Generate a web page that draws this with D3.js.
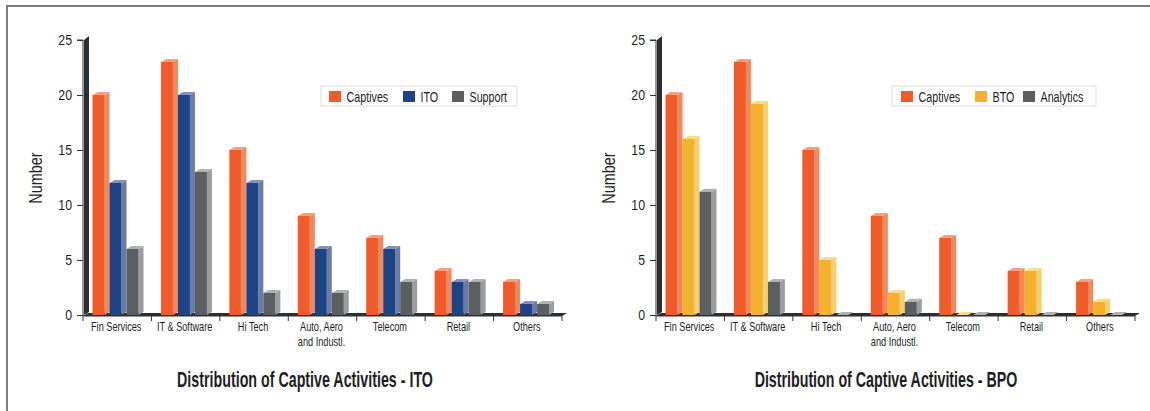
<!DOCTYPE html>
<html>
<head>
<meta charset="utf-8">
<script src="https://cdn.jsdelivr.net/npm/d3@7"></script>
<style>
  html, body { margin: 0; padding: 0; background: #fff; }
  svg { display: block; }
  text { font-family: "Liberation Sans", Arial, sans-serif; fill: #1e1e1e; }
</style>
</head>
<body>
<svg id="chart" width="1150" height="411"></svg>
<script>
// Shared categories and y ticks
const categories = [["Fin Services"], ["IT & Software"], ["Hi Tech"], ["Auto, Aero", "and Industl."], ["Telecom"], ["Retail"], ["Others"]];
const yTicks = [0, 5, 10, 15, 20, 25];

// ITO chart
const itoSeries = ["Captives", "ITO", "Support"];
const itoCaptives = [20, 23, 15, 9, 7, 4, 3];
const itoITO = [12, 20, 12, 6, 6, 3, 1];
const itoSupport = [6, 13, 2, 2, 3, 3, 1];
const itoTitle = "Distribution of Captive Activities - ITO";

// BPO chart
const bpoSeries = ["Captives", "BTO", "Analytics"];
const bpoCaptives = [20, 23, 15, 9, 7, 4, 3];
const bpoBTO = [16, 19.2, 5, 2, 0, 4, 1.2];
const bpoAnalytics = [11.2, 3, 0, 1.2, 0, 0, 0];
const bpoTitle = "Distribution of Captive Activities - BPO";

const palette = {
  Captives:  { front: "#f15a29", side: "#f6875a", top: "#f9a07a" },
  ITO:       { front: "#1c4485", side: "#6a7bab", top: "#8391bb" },
  Support:   { front: "#5c5f61", side: "#9b9d9f", top: "#b0b2b3" },
  BTO:       { front: "#f3b12d", side: "#f8d068", top: "#f9dc88" },
  Analytics: { front: "#5c5f61", side: "#9b9d9f", top: "#b0b2b3" }
};

const svg = d3.select("#chart");

// Squeeze text horizontally (condensed look) by moving its position into a
// transform and scaling along the baseline
function condense(sel, k, rot) {
  sel.each(function () {
    const t = d3.select(this);
    const tx = +t.attr("x") || 0, ty = +t.attr("y") || 0;
    t.attr("x", 0).attr("y", 0)
      .attr("transform", `translate(${tx},${ty})${rot ? ` rotate(${rot})` : ""} scale(${k},1)`);
  });
  return sel;
}

// Frame lines along the top and left edges
svg.append("rect").attr("x", 6).attr("y", 5).attr("width", 1144).attr("height", 2).attr("fill", "#7d7d7d");
svg.append("rect").attr("x", 6).attr("y", 5).attr("width", 2).attr("height", 406).attr("fill", "#7d7d7d");

const DX = 5, DY = -3;   // 3D depth offset

function drawChart(opt) {
  const g = svg.append("g");
  const x = d3.scaleBand().domain(d3.range(categories.length)).range([opt.left, opt.left + 479]);
  const y = d3.scaleLinear().domain([0, 25]).range([315, 40]);
  const inner = d3.scaleBand().domain(opt.series).range([9.5, 60.5]);
  const fw = inner.bandwidth() - DX;
  const x0 = opt.left, yb = y(0);

  // Back wall and floor
  g.append("polygon")
    .attr("points", [[x0 + 1, y(25)], [x0 + 1 + DX, y(25) + DY - 1], [x0 + 1 + DX, yb + DY], [x0 + 1, yb]].join(" "))
    .attr("fill", "#2c2f31");
  g.append("polygon")
    .attr("points", [[x0, yb + 1], [x0 + DX, yb + 1 + DY], [x0 + 479 + DX, yb + 1 + DY], [x0 + 479, yb + 1]].join(" "))
    .attr("fill", "#2c2f31");

  // Y axis
  const yAxis = d3.axisLeft(y).tickValues(yTicks).tickSize(6).tickPadding(5);
  const ya = g.append("g").attr("transform", `translate(${x0},0)`).call(yAxis);
  ya.select(".domain").attr("stroke", "#333").attr("d", `M-6,${y(25)}H0V${yb + 1}`);
  ya.selectAll(".tick line").attr("stroke", "#333");
  ya.selectAll(".tick text").attr("font-size", 14).attr("fill", "#1e1e1e")
    .style("font-family", '"Liberation Sans", Arial, sans-serif');
  condense(ya.selectAll(".tick text"), 0.88);

  // X axis with ticks on band boundaries
  const xa = g.append("g").attr("transform", `translate(0,${yb + 1})`);
  xa.append("line").attr("x1", x0).attr("x2", x0 + 479).attr("stroke", "#333");
  const bounds = d3.range(categories.length + 1).map(i => x0 + i * x.step());
  xa.selectAll("line.tk").data(bounds).join("line").attr("class", "tk")
    .attr("x1", d => d).attr("x2", d => d).attr("y1", 0).attr("y2", 5).attr("stroke", "#333");
  const xl = xa.selectAll("text").data(categories).join("text")
    .attr("text-anchor", "middle")
    .attr("font-size", 13.5)
    .attr("x", (d, i) => x(i) + x.bandwidth() / 2 - 1)
    .attr("y", 15);
  xl.selectAll("tspan").data(d => d).join("tspan")
    .attr("x", 0).attr("dy", (t, j) => j ? 15.5 : 0).text(t => t);
  condense(xl, 0.68);

  // Bars as 3D prisms
  opt.series.forEach((s, si) => {
    const vals = opt.values[si];
    const c = palette[s];
    const bg = g.append("g");
    vals.forEach((v, ci) => {
      const bx = x(ci) + inner(s);
      const ty = y(v);
      bg.append("polygon").attr("fill", c.side)
        .attr("points", [[bx + fw, ty], [bx + fw + DX, ty + DY], [bx + fw + DX, yb + DY], [bx + fw, yb]].join(" "));
      bg.append("polygon").attr("fill", c.top)
        .attr("points", [[bx, ty], [bx + DX, ty + DY], [bx + fw + DX, ty + DY], [bx + fw, ty]].join(" "));
      bg.append("rect").attr("fill", c.front)
        .attr("x", bx).attr("y", ty).attr("width", fw).attr("height", Math.max(0, yb - ty));
    });
  });

  // Y axis title
  condense(g.append("text").attr("x", opt.left - 41).attr("y", 178)
    .attr("text-anchor", "middle").attr("font-size", 18.5).text("Number"), 0.78, -90);

  // Legend
  const lg = g.append("g").attr("transform", `translate(${opt.legend.x},86)`);
  lg.append("rect").attr("width", opt.legend.w).attr("height", 20)
    .attr("fill", "#fff").attr("stroke", "#dcdcdc");
  opt.series.forEach((s, i) => {
    const ox = opt.legend.items[i];
    lg.append("rect").attr("x", ox).attr("y", 5).attr("width", 12).attr("height", 11).attr("fill", palette[s].front);
    condense(lg.append("text").attr("x", ox + 17.5).attr("y", 15.5).attr("font-size", 14.5).text(s), 0.74);
  });

  // Chart title, condensed to its set width
  const tt = g.append("text").attr("x", opt.titleX).attr("y", 387)
    .attr("text-anchor", "middle").attr("font-size", 21.5).attr("font-weight", "bold")
    .attr("fill", "#111").text(opt.title);
  condense(tt, opt.titleW / tt.node().getComputedTextLength());
}

drawChart({
  left: 83, series: itoSeries, values: [itoCaptives, itoITO, itoSupport], title: itoTitle,
  titleX: 305, titleW: 256,
  legend: { x: 321, w: 196, items: [8, 82, 131] }
});
drawChart({
  left: 656, series: bpoSeries, values: [bpoCaptives, bpoBTO, bpoAnalytics], title: bpoTitle,
  titleX: 886, titleW: 263,
  legend: { x: 892, w: 204, items: [9, 83, 131] }
});
</script>
</body>
</html>
